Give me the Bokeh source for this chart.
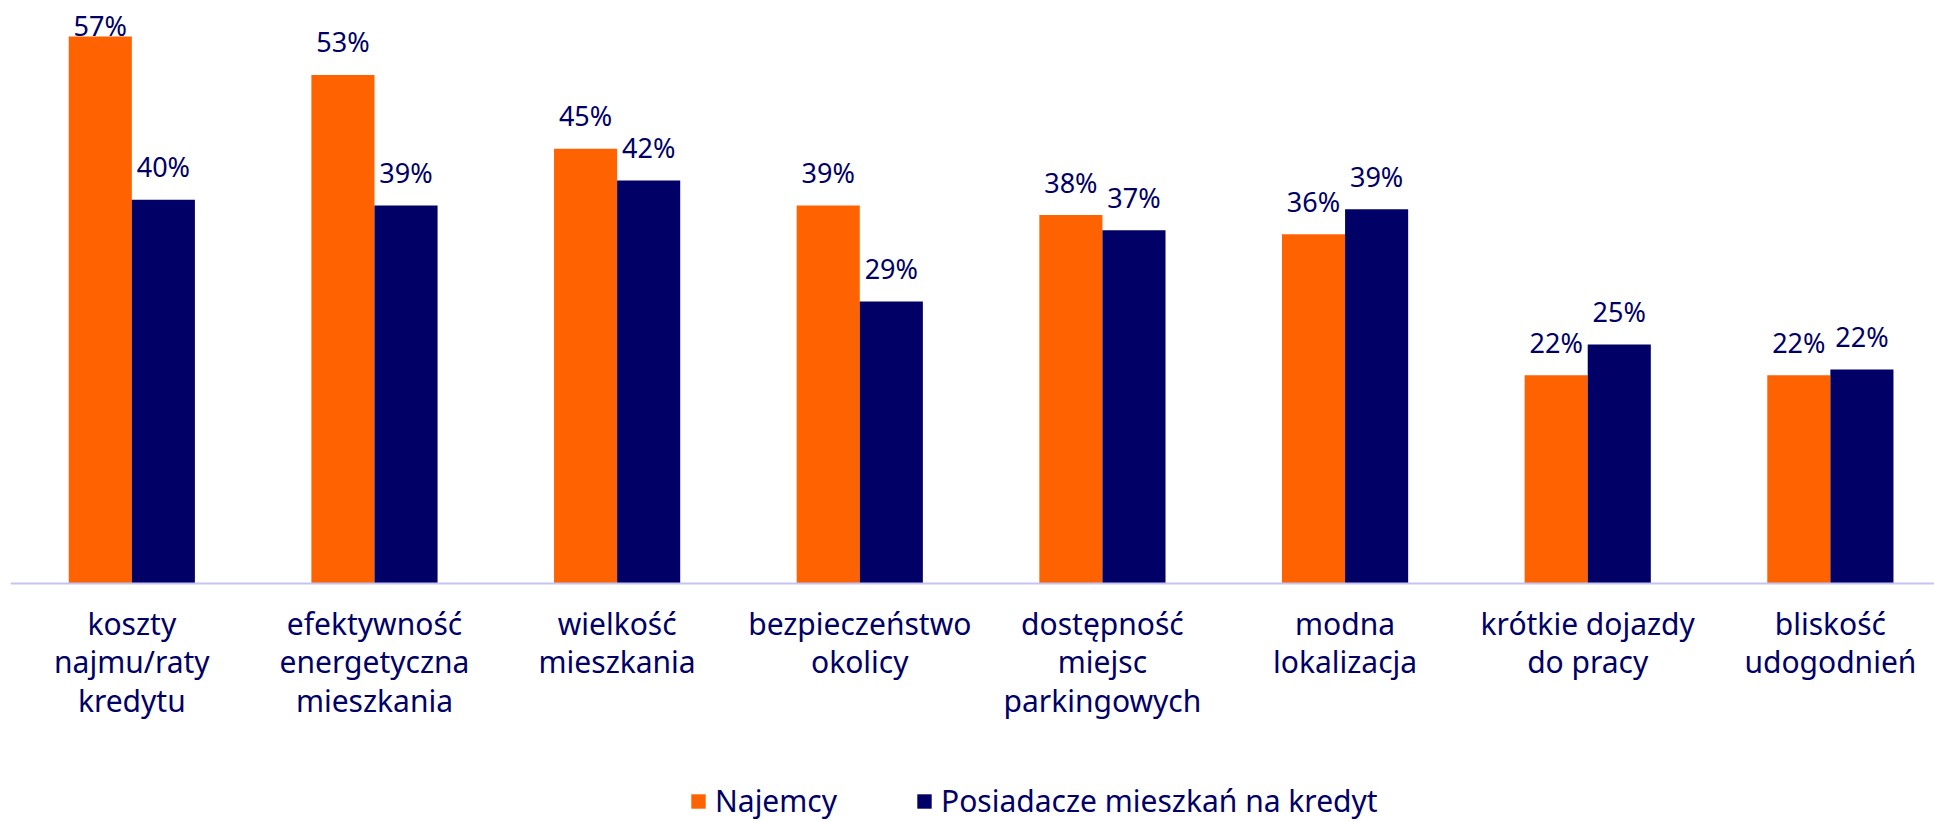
import numpy as np
from bokeh.plotting import figure
from bokeh.models import Range1d, FixedTicker, Legend, LegendItem, ColumnDataSource
from bokeh.core.properties import value
from bokeh.embed import file_html
from bokeh.resources import INLINE

# ---- data ----
categories = [
    "koszty\nnajmu/raty\nkredytu",
    "efektywność\nenergetyczna\nmieszkania",
    "wielkość\nmieszkania",
    "bezpieczeństwo\nokolicy",
    "dostępność\nmiejsc\nparkingowych",
    "modna\nlokalizacja",
    "krótkie dojazdy\ndo pracy",
    "bliskość\nudogodnień",
]
najemcy = [57.0, 53.0, 45.3, 39.4, 38.4, 36.4, 21.7, 21.7]
posiadacze = [40.0, 39.4, 42.0, 29.4, 36.8, 39.0, 24.9, 22.3]
series_names = ["Najemcy", "Posiadacze mieszkań na kredyt"]

# ---- style / layout ----
ORANGE = "#FF6200"
NAVY = "#000066"
AXIS = "#C4C4F4"
FONT = "Noto Sans"

W, H = 1934, 821
LEFT = 10
AXIS_Y_PX = 583          # page y of the category axis
PX_PER_UNIT = 9.596      # pixels per percentage point
PX_PER_CAT = 242.65      # pixels per category
Y_END = AXIS_Y_PX / PX_PER_UNIT
Y_START = -(H - AXIS_Y_PX) / PX_PER_UNIT
X_END = (W - LEFT) / PX_PER_CAT
BAR_W = 0.26

n = len(categories)
centers = np.arange(n) + 0.5

p = figure(width=W, height=H, output_backend="svg", toolbar_location=None,
           x_range=Range1d(0, X_END), y_range=Range1d(Y_START, Y_END),
           min_border_left=LEFT, min_border_right=0, min_border_top=0,
           min_border_bottom=0)
p.outline_line_color = None
p.xgrid.visible = False
p.ygrid.visible = False
p.yaxis.visible = False

src = ColumnDataSource(dict(
    x1=centers - BAR_W / 2, x2=centers + BAR_W / 2,
    a=najemcy, b=posiadacze,
))
r1 = p.vbar(x="x1", top="a", width=BAR_W, source=src, fill_color=ORANGE, line_color=None)
r2 = p.vbar(x="x2", top="b", width=BAR_W, source=src, fill_color=NAVY, line_color=None)

gap = 33 / PX_PER_UNIT
cap = Y_END - 25 / PX_PER_UNIT
lab = ColumnDataSource(dict(
    x=np.concatenate([centers - BAR_W / 2, centers + BAR_W / 2]),
    y=np.minimum(np.concatenate([najemcy, posiadacze]) + gap, cap),
    t=[f"{round(v)}%" for v in najemcy + posiadacze],
))
p.text(x="x", y="y", text="t", source=lab, text_align="center",
       text_baseline="alphabetic", text_color=NAVY,
       text_font=value(FONT), text_font_size="27px")

ax = p.xaxis[0]
ax.fixed_location = 0
ax.ticker = FixedTicker(ticks=list(centers))
ax.major_label_overrides = {float(c): lbl for c, lbl in zip(centers, categories)}
ax.major_tick_line_color = None
ax.minor_tick_line_color = None
ax.axis_line_color = AXIS
ax.axis_line_width = 2
ax.major_label_text_font = FONT
ax.major_label_text_font_size = "30px"
ax.major_label_text_color = NAVY
ax.major_label_text_line_height = 0.95
ax.major_label_standoff = 19
ax.major_tick_out = 0

legend = Legend(items=[LegendItem(label=series_names[0], renderers=[r1]),
                       LegendItem(label=series_names[1], renderers=[r2])],
                orientation="horizontal", location=(679, 0),
                glyph_width=18, glyph_height=18, label_standoff=8, spacing=78,
                padding=0, margin=0, border_line_color=None,
                background_fill_alpha=0,
                label_text_font=FONT, label_text_font_size="30px",
                label_text_color=NAVY)
p.add_layout(legend, "center")

open("out.html", "w").write(file_html(p, INLINE))
